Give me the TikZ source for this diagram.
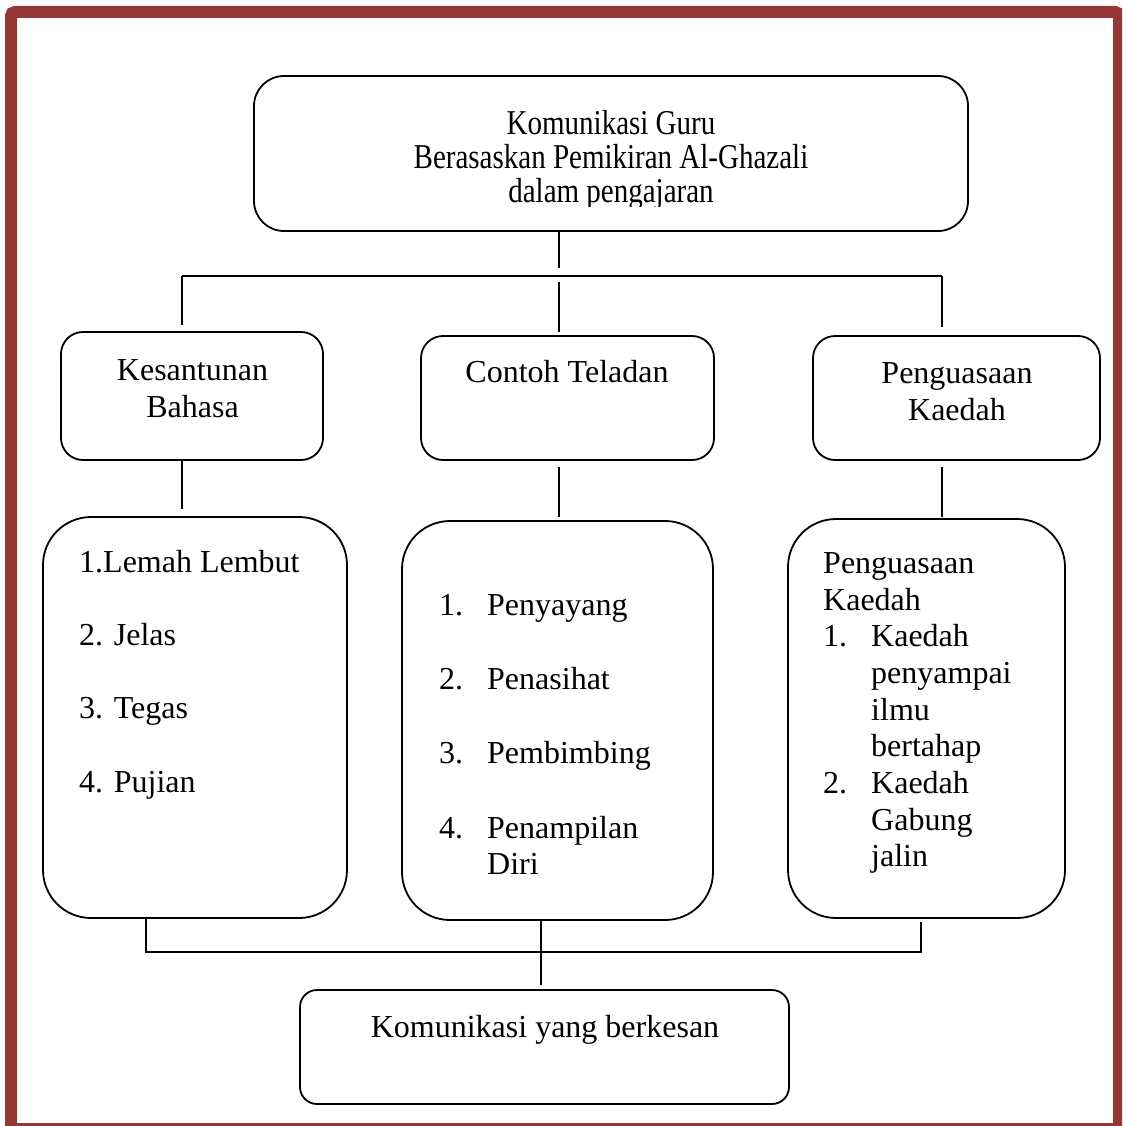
\documentclass[tikz,border=0pt]{standalone}
\usepackage{fontspec}
\setmainfont{Liberation Serif}
\definecolor{framered}{RGB}{149,55,53}
\begin{document}
\begin{tikzpicture}[x=1pt,y=-1pt,
  box/.style={draw=black, line width=1.8pt, rectangle, inner sep=0pt},
  ln/.style={draw=black, line width=1.8pt},
  txt/.style={inner sep=0pt, font=\fontsize{32}{36.7}\selectfont},
  ttxt/.style={inner sep=0pt, anchor=base, font=\fontsize{29}{34}\selectfont},
]
\useasboundingbox (0,0) rectangle (1122,1126);
\clip (0,0) rectangle (1122,1126);
\draw[framered, line width=12pt, rounded corners=4pt] (11,12) rectangle (1119,1129);

% boxes
\node[box, rounded corners=30pt, minimum width=714, minimum height=155] (top) at (611,153.5) {};
\node[box, rounded corners=22pt, minimum width=262, minimum height=128] (kb) at (192,396) {};
\node[box, rounded corners=22pt, minimum width=293, minimum height=124] (ct) at (567.5,398) {};
\node[box, rounded corners=22pt, minimum width=287, minimum height=124] (pk) at (956.5,398) {};
\node[box, rounded corners=48pt, minimum width=304, minimum height=401] (b1) at (195,717.5) {};
\node[box, rounded corners=48pt, minimum width=311, minimum height=399] (b2) at (557.5,720.5) {};
\node[box, rounded corners=48pt, minimum width=277, minimum height=399] (b3) at (926.5,718.5) {};
\node[box, rounded corners=17pt, minimum width=489, minimum height=114] (bot) at (544.5,1047) {};

% top text (vertically stretched, last line clipped)
\begin{scope}
\clip (254,76) rectangle (968,206);
\node[ttxt] (t1) at (611,135) {\scalebox{1}[1.2]{Komunikasi Guru}};
\node[ttxt] (t2) at (611,169) {\scalebox{1}[1.2]{Berasaskan Pemikiran Al-Ghazali}};
\node[ttxt] (t3) at (611,203) {\scalebox{1}[1.2]{dalam pengajaran}};
\end{scope}

% second row text
\node[txt, anchor=base] (kb1) at (192.5,380) {Kesantunan};
\node[txt, anchor=base] (kb2) at (192.5,417) {Bahasa};
\node[txt, anchor=base] (ct1) at (567,382) {Contoh Teladan};
\node[txt, anchor=base] (pk1) at (957,383) {Penguasaan};
\node[txt, anchor=base] (pk2) at (957,420) {Kaedah};

% box 1 text
\node[txt, anchor=base west] (l1) at (79,572) {1.Lemah Lembut};
\node[txt, anchor=base west] (l2) at (79,645) {2. Jelas};
\node[txt, anchor=base west] (l3) at (79,718) {3. Tegas};
\node[txt, anchor=base west] (l4) at (79,792) {4. Pujian};

% box 2 text
\node[txt, anchor=base west] (n1) at (439,615) {1.};
\node[txt, anchor=base west] (m1) at (487,615) {Penyayang};
\node[txt, anchor=base west] (n2) at (439,689) {2.};
\node[txt, anchor=base west] (m2) at (487,689) {Penasihat};
\node[txt, anchor=base west] (n3) at (439,763) {3.};
\node[txt, anchor=base west] (m3) at (487,763) {Pembimbing};
\node[txt, anchor=base west] (n4) at (439,838) {4.};
\node[txt, anchor=base west] (m4) at (487,838) {Penampilan};
\node[txt, anchor=base west] (m5) at (487,874) {Diri};

% box 3 text
\node[txt, anchor=base west] (p1) at (823,573) {Penguasaan};
\node[txt, anchor=base west] (p2) at (823,610) {Kaedah};
\node[txt, anchor=base west] (q1) at (823,646) {1.};
\node[txt, anchor=base west] (r1) at (871,646) {Kaedah};
\node[txt, anchor=base west] (r2) at (871,683) {penyampai};
\node[txt, anchor=base west] (r3) at (871,720) {ilmu};
\node[txt, anchor=base west] (r4) at (871,756) {bertahap};
\node[txt, anchor=base west] (q2) at (823,793) {2.};
\node[txt, anchor=base west] (r5) at (871,793) {Kaedah};
\node[txt, anchor=base west] (r6) at (871,830) {Gabung};
\node[txt, anchor=base west] (r7) at (871,866) {jalin};

% bottom text
\node[txt, anchor=base] (bt) at (545,1037) {Komunikasi yang berkesan};

% connector coordinates
\coordinate (a0) at (559,231);
\coordinate (a1) at (559,268);
\coordinate (hL) at (182,276);
\coordinate (hR) at (942,276);
\coordinate (hC) at (559,282);
\coordinate (kbT) at (182,325);
\coordinate (ctT) at (559,332);
\coordinate (pkT) at (942,327);
\coordinate (kbB) at (182,509);
\coordinate (ctB) at (559,517);
\coordinate (pkB) at (942,517);
\coordinate (c1) at (146,919);
\coordinate (c2) at (146,952);
\coordinate (c3) at (921,952);
\coordinate (c4) at (921,922);
\coordinate (d1) at (541,920);
\coordinate (d2) at (541,985);

\draw[ln] (a0) -- (a1);
\draw[ln] (hL) -- (hR);
\draw[ln] (hL) -- (kbT);
\draw[ln] (hC) -- (ctT);
\draw[ln] (hR) -- (pkT);
\draw[ln] (kb.south -| kbB) -- (kbB);
\draw[ln] (559,467) -- (ctB);
\draw[ln] (942,467) -- (pkB);
\draw[ln] (c1) -- (c2) -- (c3) -- (c4);
\draw[ln] (d1) -- (d2);
\end{tikzpicture}
\end{document}
